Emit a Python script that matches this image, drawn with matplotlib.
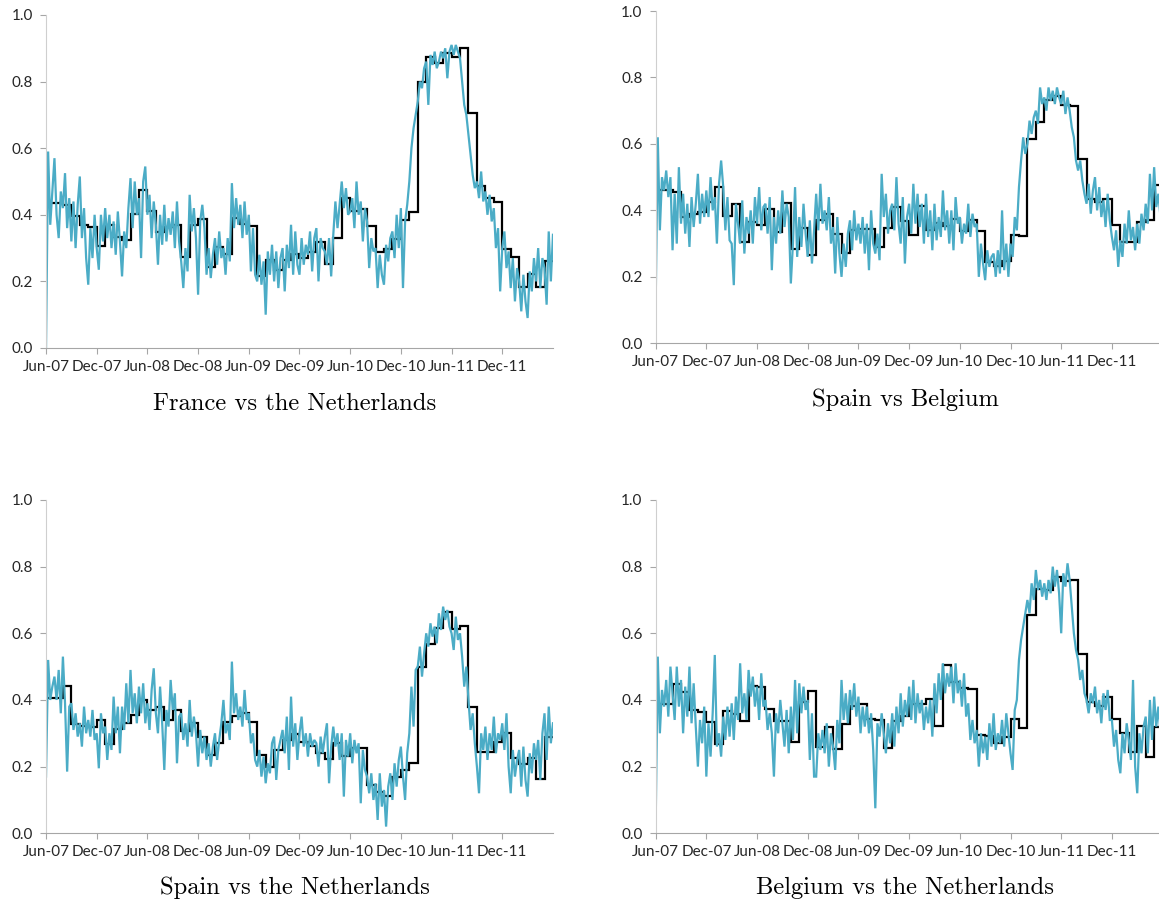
import numpy as np
import matplotlib.pyplot as plt
from matplotlib.ticker import FormatStrFormatter

# Rolling correlation, four samples per month (Jun-07 .. May-12) plus the closing value
fr_nl_corr = [
    0.00, 0.59, 0.37, 0.47,  0.57, 0.40, 0.33, 0.47,  0.42, 0.525, 0.36, 0.45,
    0.32, 0.44, 0.30, 0.43,  0.515, 0.33, 0.42, 0.27,  0.19, 0.36, 0.27, 0.40,
    0.30, 0.235, 0.40, 0.32,  0.42, 0.33, 0.40, 0.30,  0.38, 0.28, 0.41, 0.32,
    0.215, 0.35, 0.30, 0.42,  0.51, 0.36, 0.50, 0.40,  0.45, 0.27, 0.50, 0.545,
    0.40, 0.46, 0.33, 0.44,  0.37, 0.25, 0.40, 0.31,  0.43, 0.32, 0.39, 0.34,
    0.41, 0.30, 0.44, 0.32,  0.26, 0.18, 0.30, 0.23,  0.46, 0.35, 0.42, 0.33,
    0.16, 0.38, 0.43, 0.36,  0.22, 0.30, 0.21, 0.28,  0.33, 0.25, 0.35, 0.27,
    0.30, 0.22, 0.33, 0.26,  0.495, 0.36, 0.45, 0.37,  0.43, 0.33, 0.44, 0.34,
    0.40, 0.23, 0.36, 0.22,  0.20, 0.28, 0.19, 0.26,  0.10, 0.29, 0.22, 0.31,
    0.20, 0.29, 0.18, 0.27,  0.30, 0.17, 0.31, 0.24,  0.37, 0.22, 0.35, 0.25,
    0.22, 0.33, 0.25, 0.31,  0.28, 0.35, 0.23, 0.33,  0.36, 0.20, 0.33, 0.30,
    0.29, 0.25, 0.33, 0.215,  0.34, 0.44, 0.36, 0.43,  0.50, 0.42, 0.48, 0.40,
    0.41, 0.45, 0.36, 0.50,  0.40, 0.44, 0.32, 0.42,  0.38, 0.24, 0.33, 0.29,
    0.30, 0.18, 0.28, 0.22,  0.19, 0.31, 0.26, 0.33,  0.35, 0.27, 0.40, 0.30,
    0.42, 0.18, 0.38, 0.43,  0.50, 0.60, 0.66, 0.70,  0.74, 0.80, 0.78, 0.84,
    0.86, 0.73, 0.88, 0.85,  0.89, 0.84, 0.86, 0.89,  0.87, 0.90, 0.81, 0.89,
    0.91, 0.88, 0.91, 0.89,  0.87, 0.80, 0.73, 0.70,  0.64, 0.58, 0.52, 0.48,
    0.50, 0.45, 0.53, 0.44,  0.47, 0.40, 0.46, 0.38,  0.42, 0.30, 0.36, 0.17,
    0.30, 0.35, 0.24, 0.29,  0.18, 0.27, 0.14, 0.24,  0.20, 0.11, 0.22, 0.14,
    0.09, 0.23, 0.17, 0.27,  0.20, 0.30, 0.18, 0.27,  0.24, 0.13, 0.35, 0.20,
    0.34,
]
fr_nl_month = [
    0.435, 0.435, 0.430, 0.397, 0.368, 0.362, 0.305, 0.370, 0.333, 0.325,
    0.402, 0.473, 0.412, 0.347, 0.362, 0.368, 0.273, 0.368, 0.388, 0.242,
    0.302, 0.281, 0.390, 0.372, 0.367, 0.215, 0.263, 0.235, 0.265, 0.282,
    0.270, 0.288, 0.317, 0.253, 0.331, 0.450, 0.412, 0.418, 0.365, 0.287,
    0.298, 0.328, 0.384, 0.407, 0.800, 0.873, 0.855, 0.885, 0.873, 0.902,
    0.707, 0.487, 0.451, 0.438, 0.296, 0.273, 0.183, 0.223, 0.183, 0.261,
]

es_be_corr = [
    0.11, 0.62, 0.34, 0.50,  0.46, 0.52, 0.44, 0.50,  0.28, 0.45, 0.30, 0.53,
    0.36, 0.45, 0.33, 0.42,  0.29, 0.44, 0.35, 0.42,  0.51, 0.36, 0.45, 0.38,
    0.46, 0.38, 0.50, 0.40,  0.44, 0.30, 0.48, 0.55,  0.47, 0.34, 0.44, 0.31,
    0.30, 0.175, 0.42, 0.36,  0.30, 0.43, 0.27, 0.38,  0.33, 0.40, 0.30, 0.44,
    0.36, 0.47, 0.34, 0.41,  0.42, 0.33, 0.44, 0.22,  0.38, 0.30, 0.40, 0.33,
    0.46, 0.35, 0.42, 0.38,  0.18, 0.30, 0.47, 0.26,  0.38, 0.29, 0.42, 0.33,
    0.26, 0.37, 0.24, 0.34,  0.45, 0.34, 0.48, 0.36,  0.40, 0.34, 0.44, 0.30,
    0.35, 0.21, 0.38, 0.27,  0.20, 0.30, 0.23, 0.33,  0.37, 0.28, 0.40, 0.31,
    0.36, 0.30, 0.38, 0.27,  0.36, 0.22, 0.40, 0.30,  0.27, 0.33, 0.25, 0.51,
    0.38, 0.45, 0.33, 0.40,  0.42, 0.34, 0.50, 0.36,  0.30, 0.44, 0.24, 0.38,
    0.42, 0.33, 0.48, 0.36,  0.45, 0.35, 0.42, 0.30,  0.45, 0.32, 0.40, 0.28,
    0.42, 0.31, 0.38, 0.32,  0.46, 0.34, 0.40, 0.30,  0.40, 0.28, 0.44, 0.36,
    0.38, 0.30, 0.36, 0.33,  0.42, 0.32, 0.39, 0.35,  0.36, 0.20, 0.30, 0.24,
    0.19, 0.28, 0.23, 0.26,  0.27, 0.20, 0.28, 0.21,  0.40, 0.22, 0.30, 0.20,
    0.30, 0.26, 0.38, 0.34,  0.47, 0.55, 0.62, 0.57,  0.60, 0.67, 0.63, 0.68,
    0.70, 0.66, 0.77, 0.72,  0.74, 0.70, 0.77, 0.73,  0.76, 0.72, 0.77, 0.74,
    0.72, 0.76, 0.69, 0.74,  0.70, 0.65, 0.62, 0.55,  0.52, 0.55, 0.49, 0.45,
    0.42, 0.48, 0.39, 0.46,  0.50, 0.40, 0.47, 0.38,  0.43, 0.35, 0.45, 0.37,
    0.32, 0.28, 0.34, 0.23,  0.31, 0.26, 0.36, 0.30,  0.40, 0.31, 0.35, 0.28,
    0.36, 0.30, 0.39, 0.34,  0.42, 0.36, 0.51, 0.40,  0.53, 0.41, 0.45, 0.38,
    0.40,
]
es_be_month = [
    0.461, 0.461, 0.454, 0.381, 0.388, 0.394, 0.426, 0.470, 0.383, 0.419,
    0.304, 0.365, 0.355, 0.404, 0.335, 0.423, 0.283, 0.348, 0.267, 0.371,
    0.388, 0.328, 0.271, 0.341, 0.344, 0.345, 0.289, 0.346, 0.409, 0.369,
    0.326, 0.413, 0.341, 0.363, 0.354, 0.374, 0.338, 0.371, 0.337, 0.244,
    0.234, 0.247, 0.326, 0.323, 0.614, 0.665, 0.732, 0.745, 0.716, 0.714,
    0.554, 0.433, 0.424, 0.435, 0.356, 0.304, 0.305, 0.365, 0.371, 0.475,
]

es_nl_corr = [
    0.17, 0.52, 0.40, 0.44,  0.47, 0.40, 0.49, 0.36,  0.53, 0.39, 0.185, 0.38,
    0.39, 0.31, 0.36, 0.29,  0.33, 0.26, 0.38, 0.30,  0.34, 0.29, 0.37, 0.28,
    0.30, 0.195, 0.36, 0.30,  0.32, 0.22, 0.30, 0.25,  0.41, 0.30, 0.38, 0.24,
    0.38, 0.31, 0.45, 0.33,  0.49, 0.36, 0.42, 0.33,  0.44, 0.36, 0.45, 0.33,
    0.39, 0.31, 0.43, 0.495,  0.36, 0.30, 0.44, 0.33,  0.19, 0.37, 0.32, 0.46,
    0.37, 0.42, 0.21, 0.35,  0.36, 0.28, 0.33, 0.26,  0.40, 0.29, 0.35, 0.30,
    0.20, 0.31, 0.24, 0.29,  0.22, 0.27, 0.20, 0.26,  0.30, 0.22, 0.28, 0.33,
    0.40, 0.30, 0.33, 0.28,  0.515, 0.36, 0.42, 0.34,  0.38, 0.32, 0.43, 0.34,
    0.36, 0.27, 0.30, 0.22,  0.20, 0.25, 0.17, 0.23,  0.15, 0.21, 0.18, 0.27,
    0.29, 0.16, 0.25, 0.28,  0.31, 0.24, 0.35, 0.19,  0.41, 0.26, 0.33, 0.22,
    0.30, 0.35, 0.26, 0.30,  0.23, 0.30, 0.26, 0.28,  0.27, 0.20, 0.29, 0.24,
    0.29, 0.33, 0.15, 0.26,  0.32, 0.26, 0.30, 0.22,  0.30, 0.11, 0.28, 0.23,
    0.30, 0.21, 0.28, 0.24,  0.27, 0.09, 0.25, 0.19,  0.17, 0.12, 0.18, 0.10,
    0.15, 0.04, 0.18, 0.08,  0.13, 0.02, 0.14, 0.18,  0.10, 0.21, 0.14, 0.22,
    0.26, 0.17, 0.10, 0.24,  0.30, 0.44, 0.32, 0.49,  0.50, 0.56, 0.47, 0.54,
    0.60, 0.56, 0.63, 0.59,  0.62, 0.57, 0.66, 0.61,  0.68, 0.64, 0.67, 0.62,
    0.60, 0.55, 0.65, 0.58,  0.60, 0.53, 0.44, 0.50,  0.40, 0.31, 0.36, 0.27,
    0.20, 0.12, 0.30, 0.25,  0.32, 0.22, 0.30, 0.25,  0.35, 0.24, 0.30, 0.28,
    0.33, 0.25, 0.36, 0.20,  0.12, 0.25, 0.17, 0.22,  0.25, 0.14, 0.26, 0.16,
    0.11, 0.24, 0.18, 0.27,  0.22, 0.28, 0.16, 0.30,  0.36, 0.22, 0.38, 0.27,
    0.33,
]
es_nl_month = [
    0.405, 0.405, 0.443, 0.327, 0.322, 0.318, 0.340, 0.269, 0.312, 0.332,
    0.354, 0.400, 0.370, 0.380, 0.340, 0.370, 0.308, 0.330, 0.288, 0.235,
    0.272, 0.333, 0.353, 0.362, 0.335, 0.236, 0.198, 0.250, 0.280, 0.298,
    0.275, 0.262, 0.240, 0.222, 0.270, 0.233, 0.255, 0.257, 0.144, 0.125,
    0.112, 0.168, 0.190, 0.212, 0.500, 0.567, 0.615, 0.663, 0.613, 0.623,
    0.380, 0.243, 0.243, 0.275, 0.302, 0.227, 0.208, 0.225, 0.163, 0.288,
]

be_nl_corr = [
    0.02, 0.53, 0.30, 0.43,  0.38, 0.46, 0.35, 0.50,  0.42, 0.34, 0.50, 0.38,
    0.46, 0.30, 0.44, 0.35,  0.50, 0.33, 0.45, 0.32,  0.20, 0.34, 0.27, 0.38,
    0.17, 0.33, 0.23, 0.36,  0.535, 0.26, 0.30, 0.23,  0.35, 0.28, 0.38, 0.29,
    0.39, 0.28, 0.41, 0.34,  0.51, 0.36, 0.42, 0.34,  0.49, 0.41, 0.47, 0.38,
    0.44, 0.34, 0.48, 0.38,  0.40, 0.31, 0.36, 0.30,  0.17, 0.36, 0.30, 0.40,
    0.33, 0.26, 0.37, 0.24,  0.38, 0.28, 0.46, 0.30,  0.45, 0.36, 0.44, 0.37,
    0.40, 0.22, 0.36, 0.17,  0.17, 0.30, 0.25, 0.31,  0.24, 0.33, 0.20, 0.30,
    0.26, 0.19, 0.34, 0.27,  0.46, 0.34, 0.42, 0.33,  0.43, 0.37, 0.45, 0.35,
    0.41, 0.30, 0.38, 0.32,  0.38, 0.30, 0.36, 0.25,  0.075, 0.33, 0.29, 0.36,
    0.30, 0.24, 0.33, 0.27,  0.36, 0.26, 0.38, 0.30,  0.42, 0.32, 0.40, 0.35,
    0.44, 0.34, 0.46, 0.33,  0.42, 0.36, 0.40, 0.31,  0.38, 0.33, 0.40, 0.29,
    0.45, 0.36, 0.48, 0.40,  0.51, 0.42, 0.48, 0.44,  0.50, 0.39, 0.51, 0.42,
    0.46, 0.38, 0.48, 0.35,  0.39, 0.28, 0.34, 0.27,  0.31, 0.20, 0.30, 0.24,
    0.29, 0.22, 0.33, 0.26,  0.36, 0.25, 0.30, 0.27,  0.34, 0.26, 0.36, 0.30,
    0.24, 0.19, 0.37, 0.40,  0.52, 0.58, 0.62, 0.66,  0.70, 0.66, 0.75, 0.70,
    0.79, 0.73, 0.76, 0.71,  0.75, 0.70, 0.76, 0.72,  0.80, 0.74, 0.79, 0.72,
    0.60, 0.78, 0.74, 0.81,  0.76, 0.68, 0.60, 0.55,  0.52, 0.46, 0.49, 0.42,
    0.40, 0.36, 0.42, 0.39,  0.44, 0.36, 0.40, 0.33,  0.42, 0.37, 0.43, 0.34,
    0.34, 0.26, 0.31, 0.22,  0.18, 0.30, 0.24, 0.33,  0.28, 0.22, 0.46, 0.20,
    0.12, 0.30, 0.24, 0.32,  0.35, 0.24, 0.40, 0.28,  0.41, 0.32, 0.38, 0.30,
    0.35,
]
be_nl_month = [
    0.389, 0.389, 0.448, 0.423, 0.369, 0.363, 0.335, 0.268, 0.367, 0.358,
    0.337, 0.442, 0.440, 0.373, 0.337, 0.337, 0.274, 0.393, 0.427, 0.259,
    0.319, 0.254, 0.328, 0.383, 0.388, 0.343, 0.340, 0.257, 0.337, 0.353,
    0.387, 0.387, 0.403, 0.322, 0.505, 0.455, 0.435, 0.433, 0.295, 0.292,
    0.270, 0.288, 0.344, 0.317, 0.655, 0.733, 0.730, 0.770, 0.758, 0.760,
    0.538, 0.393, 0.382, 0.410, 0.342, 0.302, 0.243, 0.323, 0.230, 0.320,
]

tick_labels = ['Jun-07', 'Dec-07', 'Jun-08', 'Dec-08', 'Jun-09',
               'Dec-09', 'Jun-10', 'Dec-10', 'Jun-11', 'Dec-11']
titles = ['France vs the Netherlands', 'Spain vs Belgium',
          'Spain vs the Netherlands', 'Belgium vs the Netherlands']

BLUE = '#4bacc6'
AXIS_GREY = '#a6a6a6'

fig = plt.figure(figsize=(11.59, 9.02), dpi=100)

# [left, bottom, width, height] in figure fractions; right column runs off the page edge
rects = [
    [0.0397, 0.6142, 0.4374, 0.3692],
    [0.5657, 0.6194, 0.4374, 0.3684],
    [0.0397, 0.0762, 0.4374, 0.3695],
    [0.5657, 0.0762, 0.4374, 0.3695],
]
title_pos = [(0.2545, 0.552), (0.781, 0.5565), (0.2545, 0.0155), (0.781, 0.0155)]
series = [(fr_nl_corr, fr_nl_month), (es_be_corr, es_be_month),
          (es_nl_corr, es_nl_month), (be_nl_corr, be_nl_month)]

for rect, (corr, month), title, (tx, ty) in zip(rects, series, titles, title_pos):
    ax = fig.add_axes(rect)
    x = np.arange(len(corr)) / 4.0
    ax.plot(x, corr, color=BLUE, lw=1.6, solid_joinstyle='miter')
    edges = np.arange(len(month) + 1)
    ax.stairs(month, edges, baseline=None, color='black', lw=1.6)

    ax.set_xlim(0, 60)
    ax.set_ylim(0, 1)
    ax.set_xticks(np.arange(len(tick_labels)) * 6)
    ax.set_xticklabels(tick_labels)
    ax.set_yticks(np.arange(0, 1.01, 0.2))
    ax.yaxis.set_major_formatter(FormatStrFormatter('%.1f'))

    for side in ['top', 'right']:
        ax.spines[side].set_visible(False)
    ax.spines['left'].set_color('#cfcfcf')
    ax.spines['bottom'].set_color(AXIS_GREY)
    ax.tick_params(axis='both', direction='out', color=AXIS_GREY, length=4.5,
                   width=0.8, labelsize=11, labelcolor='#262626')
    ax.tick_params(axis='y', pad=5)
    ax.tick_params(axis='x', pad=4)
    for lab in ax.get_xticklabels() + ax.get_yticklabels():
        lab.set_family('Lato')

    fig.text(tx, ty, title, ha='center', va='center', fontsize=17.7, family='cmr10')

fig.savefig('out.png', dpi=100)
